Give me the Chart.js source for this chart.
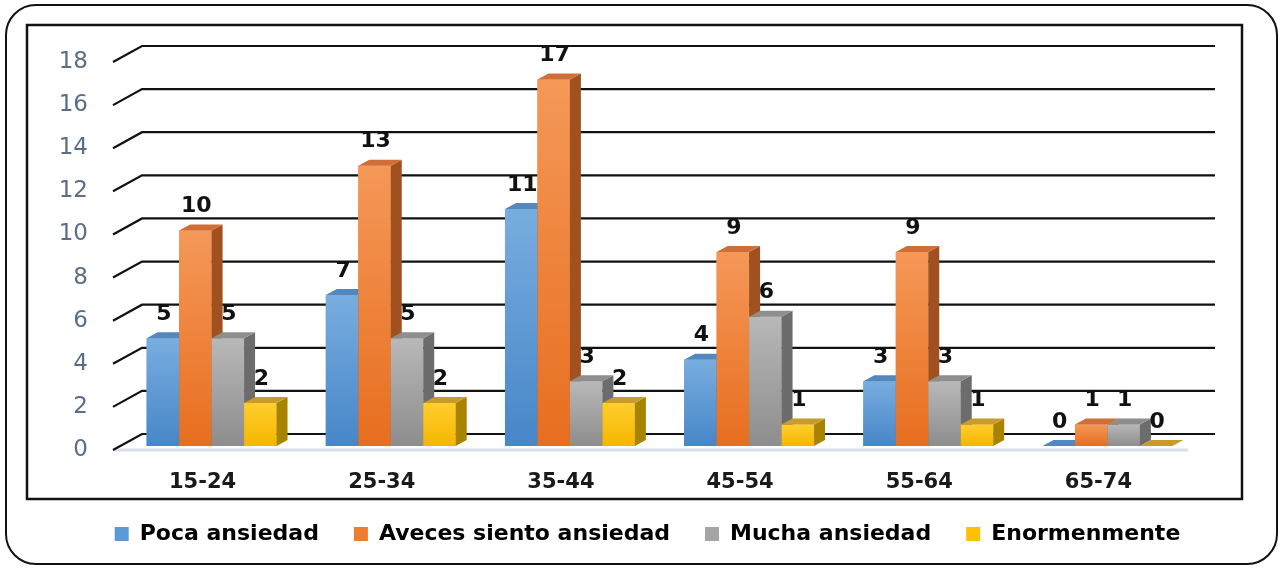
<!DOCTYPE html>
<html>
<head>
<meta charset="utf-8">
<script src="https://cdn.jsdelivr.net/npm/chart.js@4.4.1/dist/chart.umd.min.js"></script>
<style>
  html, body { margin: 0; padding: 0; background: #fff; }
  canvas { display: block; }
</style>
</head>
<body>
<canvas id="grafico" width="1281" height="568"></canvas>
<script>
// Datos del gráfico
const categorias = ['15-24', '25-34', '35-44', '45-54', '55-64', '65-74'];
const pocaAnsiedad = [5, 7, 11, 4, 3, 0];
const avecesAnsiedad = [10, 13, 17, 9, 9, 1];
const muchaAnsiedad = [5, 5, 3, 6, 3, 1];
const enormemente = [2, 2, 2, 1, 1, 0];
const nombresSeries = ['Poca ansiedad', 'Aveces siento ansiedad', 'Mucha ansiedad', 'Enormenmente'];
const ticksY = [0, 2, 4, 6, 8, 10, 12, 14, 16, 18];

// colores: frente (arriba / abajo), lado, tapa, leyenda
const colores = [
    { arriba: '#78addf', abajo: '#4786c8', lado: '#3d6a9c', tapa: '#5587bf', leyenda: '#5b9bd5' },
    { arriba: '#f59858', abajo: '#e76e1f', lado: '#a0511f', tapa: '#cf6e36', leyenda: '#ed7d31' },
    { arriba: '#b8b8b8', abajo: '#8d8d8d', lado: '#6c6c6c', tapa: '#8e8e8e', leyenda: '#a5a5a5' },
    { arriba: '#ffcd2e', abajo: '#f4b700', lado: '#a88300', tapa: '#c89b2c', leyenda: '#ffc000' }
];
const series = [pocaAnsiedad, avecesAnsiedad, muchaAnsiedad, enormemente];

const DX = 11, DY = -6;            // profundidad de las barras
const FONDO_X = 29, FONDO_Y = -16; // profundidad de la pared

function frente(col) {
    return (c) => {
        const chart = c.chart;
        if (!chart.chartArea || !c.parsed) return col.abajo;
        const y = chart.scales.y;
        const top = y.getPixelForValue(c.parsed.y);
        const base = y.getPixelForValue(0);
        if (base - top < 1) return col.abajo;
        const g = chart.ctx.createLinearGradient(0, top, 0, base);
        g.addColorStop(0, col.arriba);
        g.addColorStop(1, col.abajo);
        return g;
    };
}

// marcos, pared del fondo y caras 3D
const efecto3d = {
    id: 'efecto3d',
    afterLayout(chart) {
        // la leyenda va algo a la derecha del centro del área
        chart.legend.left += 28;
        chart.legend.right += 28;
    },
    beforeDraw(chart) {
        const ctx = chart.ctx;
        ctx.save();
        ctx.fillStyle = '#fff';
        ctx.fillRect(0, 0, chart.width, chart.height);
        ctx.strokeStyle = '#111';
        ctx.lineWidth = 2;
        ctx.beginPath();
        ctx.roundRect(6, 5, 1271, 559, 30);
        ctx.stroke();
        ctx.lineWidth = 2.5;
        ctx.strokeRect(27, 25, 1215, 474);
        ctx.restore();
    },
    beforeDatasetsDraw(chart) {
        const ctx = chart.ctx;
        const y = chart.scales.y;
        const a = chart.chartArea;
        const x0 = a.left - 9;
        ctx.save();
        // suelo
        const base = y.getPixelForValue(0);
        ctx.strokeStyle = '#d9e0e8';
        ctx.lineWidth = 3;
        ctx.beginPath();
        ctx.moveTo(x0, base + 4);
        ctx.lineTo(a.right - 9, base + 4);
        ctx.stroke();
        ctx.strokeStyle = '#111';
        ctx.lineWidth = 2.2;
        ticksY.forEach(v => {
            const py = y.getPixelForValue(v);
            ctx.beginPath();
            ctx.moveTo(x0, py + 4);
            ctx.lineTo(x0 + FONDO_X, py + 4 + FONDO_Y);
            ctx.lineTo(a.right + 18, py + 4 + FONDO_Y);
            ctx.stroke();
        });
        ctx.restore();
    },
    afterDatasetsDraw(chart) {
        const ctx = chart.ctx;
        ctx.save();
        // de izquierda a derecha: el frente de cada barra tapa el lado de la anterior
        chart.data.datasets.forEach((ds, i) => {
            const col = colores[i];
            chart.getDatasetMeta(i).data.forEach(bar => {
                bar.draw(ctx);
                const l = bar.x - bar.width / 2, r = bar.x + bar.width / 2;
                ctx.fillStyle = col.lado;
                ctx.beginPath();
                ctx.moveTo(r, bar.y);
                ctx.lineTo(r + DX, bar.y + DY);
                ctx.lineTo(r + DX, bar.base + DY);
                ctx.lineTo(r, bar.base);
                ctx.closePath();
                ctx.fill();
                ctx.fillStyle = col.tapa;
                ctx.beginPath();
                ctx.moveTo(l, bar.y);
                ctx.lineTo(l + DX, bar.y + DY);
                ctx.lineTo(r + DX, bar.y + DY);
                ctx.lineTo(r, bar.y);
                ctx.closePath();
                ctx.fill();
            });
        });
        // etiquetas de valores
        ctx.fillStyle = '#111';
        ctx.font = 'bold 22px "DejaVu Sans"';
        ctx.textAlign = 'center';
        ctx.textBaseline = 'middle';
        chart.data.datasets.forEach((ds, i) => {
            chart.getDatasetMeta(i).data.forEach((bar, j) => {
                ctx.fillText(String(ds.data[j]), bar.x + 1, bar.y - 24);
            });
        });
        ctx.restore();
    }
};

const ctx = document.getElementById('grafico').getContext('2d');
const grafico = new Chart(ctx, {
    type: 'bar',
    data: {
        labels: categorias,
        datasets: series.map((datos, i) => ({
            label: nombresSeries[i],
            data: datos,
            backgroundColor: frente(colores[i]),
            borderWidth: 0,
            categoryPercentage: 0.725,
            barPercentage: 1
        }))
    },
    options: {
        responsive: false,
        animation: false,
        layout: { padding: { left: 42, right: 84, top: 58, bottom: 13 } },
        scales: {
            x: {
                grid: { display: false, drawTicks: false },
                border: { display: false },
                ticks: {
                    color: '#1a1a1a',
                    font: { family: 'DejaVu Sans', size: 21, weight: 'bold' },
                    labelOffset: -9,
                    padding: 24,
                    autoSkip: false,
                    maxRotation: 0
                },
                afterFit(s) { s.height = 42; }
            },
            y: {
                min: 0,
                max: 18,
                grid: { display: false, drawTicks: false },
                border: { display: false },
                ticks: {
                    stepSize: 2,
                    color: '#5a6d8a',
                    font: { family: 'DejaVu Sans', size: 23 },
                    labelOffset: 4,
                    padding: 34
                },
                afterFit(s) { s.width = 80; }
            }
        },
        plugins: {
            tooltip: { enabled: false },
            legend: {
                position: 'bottom',
                labels: {
                    color: '#1a1a1a',
                    font: { family: 'DejaVu Sans', size: 22, weight: 'bold' },
                    boxWidth: 14,
                    boxHeight: 14,
                    padding: 35,
                    generateLabels: () => nombresSeries.map((n, i) => ({
                        text: n,
                        fillStyle: colores[i].leyenda,
                        strokeStyle: colores[i].leyenda,
                        lineWidth: 0,
                        datasetIndex: i,
                        hidden: false
                    }))
                }
            }
        }
    },
    plugins: [efecto3d]
});
</script>
</body>
</html>
